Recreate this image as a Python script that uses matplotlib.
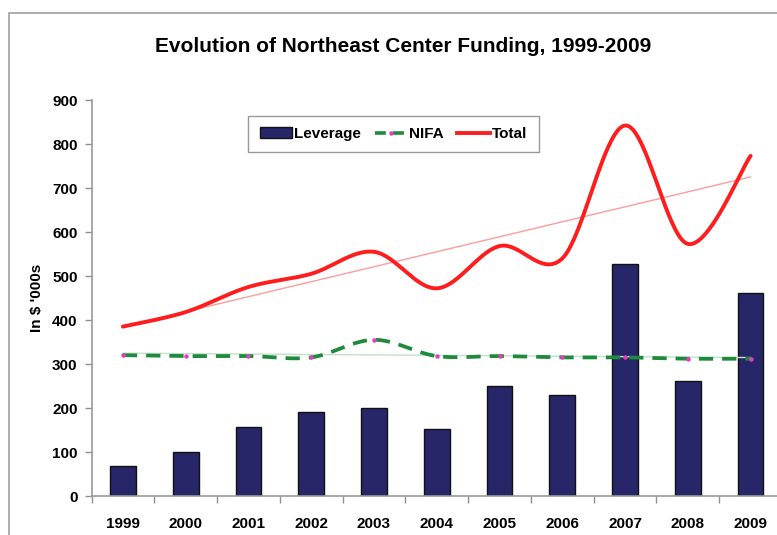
import numpy as np
import matplotlib
matplotlib.use("Agg")
import matplotlib.pyplot as plt
from matplotlib.lines import Line2D
from matplotlib.patches import Patch, Rectangle

plt.rcParams['font.family'] = ['Liberation Sans', 'DejaVu Sans']

years = ['1999', '2000', '2001', '2002', '2003', '2004', '2005', '2006', '2007', '2008', '2009']
leverage = [68, 100, 157, 190, 200, 152, 250, 229, 527, 261, 461]
nifa = [320, 318, 318, 315, 355, 318, 318, 315, 315, 312, 312]
total = [385, 418, 475, 505, 555, 472, 568, 540, 842, 573, 773]
yticks = [0, 100, 200, 300, 400, 500, 600, 700, 800, 900]

title = 'Evolution of Northeast Center Funding, 1999-2009'
ylabel = "In $ '000s"

BAR = '#262669'
RED = '#ff1c1c'
GREEN = '#1f8a3c'


def smooth(xv, yv, steps=40):
    P = np.column_stack([xv, yv]).astype(float)
    n = len(P)
    out = [P[0]]
    t = np.linspace(0, 1, steps)[1:, None]
    for i in range(n - 1):
        p0 = P[i - 1] if i > 0 else P[i]
        p3 = P[i + 2] if i + 2 < n else P[i + 1]
        c1 = P[i] + (P[i + 1] - p0) / 6.0
        c2 = P[i + 1] - (p3 - P[i]) / 6.0
        seg = ((1 - t) ** 3) * P[i] + 3 * ((1 - t) ** 2) * t * c1 + 3 * (1 - t) * t ** 2 * c2 + t ** 3 * P[i + 1]
        out.extend(seg)
    out = np.array(out)
    return out[:, 0], out[:, 1]


W, H = 777, 535
fig = plt.figure(figsize=(W / 100, H / 100), dpi=100)
fig.patches.append(Rectangle((8.5 / W, -0.1), 1.2, 1 - 12.5 / H + 0.1, transform=fig.transFigure,
                             fill=False, edgecolor='#a0a0a0', linewidth=1.2))

left, right, bottom, top = 91.5, 782, 496, 100
ax = fig.add_axes([left / W, 1 - bottom / H, (right - left) / W, (bottom - top) / H])

x = np.arange(len(years))
ax.bar(x, leverage, width=0.41, color=BAR, edgecolor='#111111', linewidth=1.0, zorder=2)

# trend lines
cf = np.polyfit(x, total, 1)
ax.plot(x, np.polyval(cf, x), color='#ff9c9c', linewidth=1.0, zorder=3)
cn = np.polyfit(x, nifa, 1)
ax.plot(x, np.polyval(cn, x), color='#bfe3c8', linewidth=1.0, zorder=3)

sx, sy = smooth(x, nifa)
ax.plot(sx, sy, color=GREEN, linewidth=2.7, dashes=(3.8, 2.4), zorder=4)
ax.plot(x, nifa, linestyle='none', marker='o', markersize=2.2, color='#e040c0', zorder=5)

sx, sy = smooth(x, total)
ax.plot(sx, sy, color=RED, linewidth=2.8, zorder=6, solid_capstyle='round')

ax.set_xlim(-0.5, len(years) - 0.5)
ax.set_ylim(0, 900)
ax.set_yticks(yticks)
ax.set_yticklabels([str(v) for v in yticks], fontsize=11, fontweight='bold')
ax.set_xticks(x)
ax.set_xticklabels(years, fontsize=11, fontweight='bold')
ax.set_xticks(np.arange(len(years) + 1) - 0.5, minor=True)
ax.tick_params(axis='x', which='major', length=0, pad=15)
ax.tick_params(axis='x', which='minor', length=5, color='#909090', width=1)
ax.tick_params(axis='y', length=5, color='#909090', width=1, pad=5)
for s in ['top', 'right']:
    ax.spines[s].set_visible(False)
for s in ['left', 'bottom']:
    ax.spines[s].set_color('#9a9a9a')
    ax.spines[s].set_linewidth(1.2)

ax.set_ylabel(ylabel, fontsize=11, fontweight='bold', labelpad=6)
fig.text(403 / W, 1 - 47 / H, title, fontsize=15, fontweight='bold', ha='center', va='center')

handles = [Patch(facecolor=BAR, edgecolor='#111111', linewidth=1.0),
           Line2D([], [], color=GREEN, linewidth=2.6, dashes=(3.0, 2.0), marker='o', markersize=2.2,
                  markerfacecolor='#e040c0', markeredgecolor='#e040c0'),
           Line2D([], [], color=RED, linewidth=2.8)]
leg = fig.legend(handles, ['Leverage', 'NIFA', 'Total'], loc='center',
                 bbox_to_anchor=(393.5 / W, 1 - 134 / H), ncol=3, frameon=True, fancybox=False,
                 prop={'size': 11, 'weight': 'bold'}, handlelength=2.1, handletextpad=0.15,
                 columnspacing=0.9, borderpad=0.75, borderaxespad=0, numpoints=1)
leg.get_frame().set_edgecolor('#808080')
leg.get_frame().set_linewidth(1.0)

fig.savefig('out.png', dpi=100)
